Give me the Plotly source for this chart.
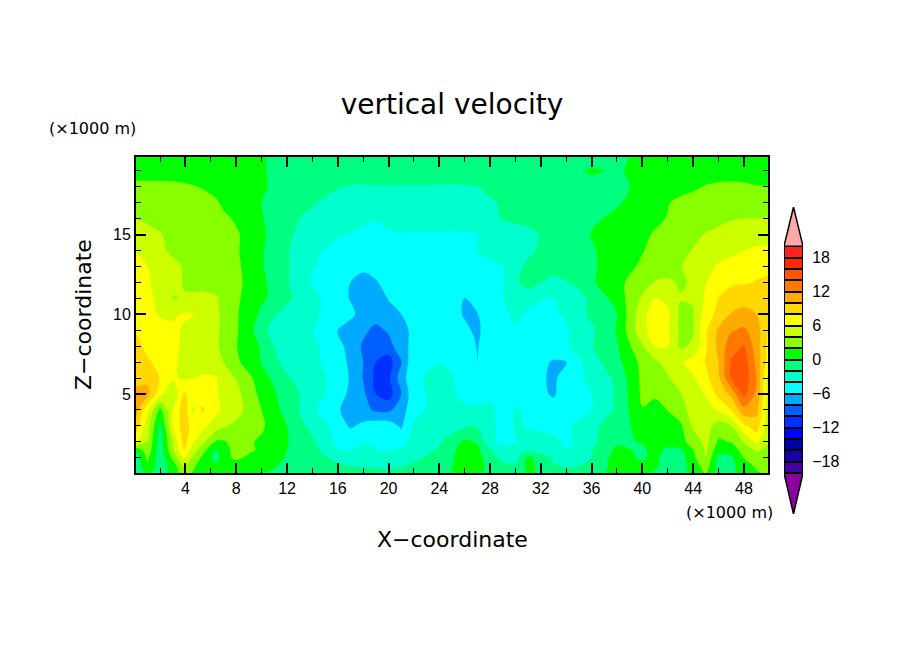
import plotly.graph_objects as go

# grid of the cross section (x1000 m)
x_km = [0.1, 1, 2, 3, 3.9, 4.6, 5.3, 6.4, 7, 8, 9,
        10, 11, 12, 14, 16, 17, 18, 19, 20, 21, 22,
        24, 26, 27, 28, 29, 30, 31, 33, 34, 36, 38,
        40, 41, 42, 43, 44, 45, 46, 47, 48, 49, 49.9]
z_km = [19.86, 19, 18, 17, 16, 15, 14, 13, 12, 11, 10, 9, 8, 7, 6, 5, 4, 3, 2, 1.5, 1, 0.5, 0.05]

# vertical velocity, one row per z_km
w = [
    [1, 1, 1, 1, 1, 1, 1, 1, 1, 1, .8,
     .3, -.5, -.8, -1, -1, -1, -1, -1, -1, -1, -1,
     -1, -1, -1, -1, -1, -1, -1, -1, -1, -.8, -.4,
     .4, .8, 1, 1, 1, 1, 1, 1, 1, .5, .8],
    [1, 1, 1, 1, 1, 1, 1, 1, 1, 1, .8,
     .3, -.5, -.9, -1.2, -1.3, -1.3, -1.3, -1.3, -1.3, -1.3, -1.3,
     -1.3, -1.3, -1.2, -1.2, -1.1, -1.1, -1, -.8, -.5, .2, -.2,
     .5, .9, 1, 1.1, 1.2, 1.2, 1.2, 1.2, 1.2, 1, 1],
    [2.6, 2.6, 2.6, 2.5, 2.3, 2.1, 1.9, 1.5, 1.2, 1, .8,
     .4, -.5, -.9, -1.5, -1.9, -2.1, -2.1, -2.1, -2.1, -2.1, -2.1,
     -2.1, -2.1, -2, -1.8, -1.6, -1.5, -1.3, -1, -.9, -.6, -.3,
     .3, .8, 1, 1.4, 1.7, 2.1, 2.3, 2.4, 2.3, 2.1, 2.1],
    [3.2, 3.2, 3.1, 3, 2.9, 2.8, 2.6, 2.2, 1.7, 1.3, .9,
     0, -.9, -1.2, -1.9, -2.5, -2.7, -2.8, -2.9, -2.9, -2.9, -2.9,
     -2.8, -2.6, -2.4, -2.1, -1.9, -1.7, -1.5, -1.2, -1.1, -.7, -.2,
     .8, 1.2, 1.9, 2.4, 2.7, 2.9, 3.1, 3.2, 3.3, 3.3, 3.3],
    [4, 3.7, 3.4, 3.2, 3, 2.9, 2.8, 2.5, 2.3, 1.8, .9,
     .2, -1, -1.7, -2.3, -2.8, -3.2, -3.6, -3.9, -3.6, -3.4, -3.5,
     -3.5, -3.3, -3, -2.4, -1.9, -1.8, -1.7, -1.3, -1.1, -.3, .4,
     1.2, 1.6, 2.1, 2.5, 3, 3.3, 3.6, 3.9, 4, 4, 4.1],
    [4.9, 4.6, 4.1, 3.6, 3.3, 3.2, 3.2, 3, 2.7, 2.2, 1.5,
     .4, -.8, -1.7, -2.9, -3.9, -4.1, -4.4, -4.4, -4.2, -4.1, -4.1,
     -4.1, -4.2, -4, -3.6, -2.9, -2.4, -2.3, -1.5, -1.2, .1, .8,
     1.6, 2.2, 2.6, 3.1, 3.6, 4.1, 4.4, 4.7, 5, 5.2, 5.3],
    [5.9, 5.1, 4.2, 3.8, 3.4, 3.3, 3.3, 3.1, 2.8, 2.2, 1.4,
     .2, -.8, -1.8, -3.8, -4.3, -4.5, -4.6, -4.6, -4.6, -4.6, -4.6,
     -4.5, -4.4, -4, -3.7, -3.6, -2.6, -2.2, -1.5, -1.2, -.2, .9,
     1.9, 2.5, 2.9, 3.5, 4.1, 4.6, 5.2, 5.6, 6, 6.3, 6.3],
    [7, 6, 5, 4.3, 3.9, 3.6, 3.4, 3.2, 2.9, 2.3, 1.5,
     .2, -.9, -1.8, -3.9, -4.6, -5.4, -5.7, -5.6, -5.2, -5, -4.9,
     -4.8, -4.7, -4.5, -4.2, -4, -2.3, -1.8, -1.4, -1.2, -.3, 1.1,
     2.3, 2.8, 3.2, 3.9, 4.6, 5.5, 6.2, 6.6, 7.2, 7.5, 7.5],
    [7.5, 6.3, 5.2, 4.5, 3.9, 3.7, 3.5, 3.3, 3, 2.4, 1.6,
     .4, -.6, -1.8, -4.2, -5.3, -6, -6.5, -6.1, -5.6, -5.3, -5.1,
     -5, -5, -4.9, -4.6, -4.2, -2.2, -1.6, -2.4, -2.1, -.3, 1.5,
     3.1, 4.1, 4.3, 3.8, 4.2, 5.9, 7, 7.6, 7.8, 8.1, 8.4],
    [7.6, 6.4, 5.6, 3.9, 4.1, 4.2, 4.4, 4.2, 3.4, 2.3, 1.4,
     .3, -.4, -1.7, -3.3, -5.4, -6.1, -7.9, -7, -5.9, -5.6, -5.3,
     -5.1, -6.05, -5.4, -5, -4.1, -3, -2.6, -4.1, -3.1, -1.7, .9,
     4.3, 6.1, 5.6, 4.1, 4.1, 6.4, 8, 9.3, 9.5, 9.5, 9],
    [7.8, 6.6, 5.8, 5.7, 6.2, 6.1, 5.7, 4.4, 3.5, 2.2, 1.1,
     -.4, -1.9, -2.5, -3.6, -5, -5.6, -6.7, -7, -6.6, -6, -5.6,
     -5.2, -6.1, -6.05, -5.4, -4.6, -3.4, -4.5, -4.2, -3.8, -1.5, 0,
     5.4, 7, 6.4, 3.6, 3.9, 7, 8.6, 10.1, 10.4, 10, 9],
    [7.9, 7.4, 6.9, 6.4, 5.8, 5.4, 5.1, 4.4, 3.5, 2.2, .9,
     -1.5, -2.5, -3, -3.9, -6.1, -6.8, -7.5, -8.6, -7.7, -6.4, -5.7,
     -5.2, -5.8, -6.2, -5.4, -4.7, -4.3, -6.05, -4.1, -4.2, -2.4, .2,
     5.4, 7, 6.3, 3.6, 3.9, 7.7, 10.3, 11.8, 12.4, 10.8, 8],
    [8.5, 7.6, 7.2, 6.4, 5.7, 5.3, 5, 4.4, 3.4, 2.1, .8,
     -.2, -2, -2.9, -3.5, -5.4, -6.7, -8.3, -9.1, -8.9, -6.5, -5.6,
     -5, -5, -6.1, -5, -4.6, -4.2, -6.05, -4.8, -4.2, -2.1, -.2,
     3.8, 6.1, 6.1, 3.7, 4.3, 7.8, 10.5, 13.2, 14.1, 11, 7.6],
    [7.9, 8.2, 7.6, 6.2, 5.7, 5.4, 5.2, 4.6, 4, 2.5, 1,
     -.1, -1.6, -2.6, -3.4, -5.3, -6.3, -8, -10, -10.9, -8.2, -4.2,
     -4.1, -4.5, -6, -4.9, -4.6, -4.8, -4.9, -6.2, -6.05, -2.8, -.6,
     2.6, 3.6, 4.8, 5.7, 6.8, 8.1, 10, 14.2, 15, 11.5, 7],
    [8.8, 9.5, 7.9, 6.3, 5.7, 6, 6.2, 6.2, 4.9, 3.9, 2.5,
     .7, -.4, -1.8, -3, -4.8, -6.2, -8.1, -10.5, -10.4, -7, -4.4,
     -3.3, -4.5, -5.1, -4.7, -4.7, -4.8, -5, -6.4, -5, -3.6, -1.5,
     2.5, 3.2, 3.8, 5, 5.8, 7.5, 9.6, 14.1, 15.4, 12, 5.5],
    [11, 10.6, 6.6, 4.2, 8.4, 7, 7.2, 6.3, 5.1, 4.6, 3,
     1.4, .2, -1.1, -3, -5, -6.5, -7.5, -10, -11, -8, -4.6,
     -3.4, -4.3, -4.6, -4.3, -4.1, -4.4, -4.7, -6.3, -4.7, -4, -1.7,
     2.4, 3, 3.4, 3.9, 5, 6.1, 8.6, 10.5, 14.6, 11.5, 5.5],
    [11, 6.5, 1.4, 6, 9.2, 5.6, 8.3, 6.6, 5.6, 4.6, 3.5,
     2, .5, -.6, -3.6, -5.8, -6.8, -7.4, -8.3, -8.4, -7, -4.5,
     -3.4, -3.8, -3.7, -3.7, -4.5, -3.9, -4.2, -4.9, -4.6, -4, -1.6,
     1.9, -.2, 2.1, 3.2, 4.8, 5.3, 6.2, 8, 11.4, 10.6, 5],
    [9, 5, -.5, 6, 9.2, 7, 6.6, 5, 4.2, 3.6, 3,
     2.4, .9, 0, -2.7, -4.8, -6.3, -5.5, -4.9, -5, -6.3, -3.8,
     -2.6, -2.3, -2.2, -2.6, -6.05, -3.6, -4.2, -4.6, -4.5, -2.4, -1.1,
     .9, 1.2, .9, 1.6, 4.4, 4.9, 3.1, 4, 7.5, 9, 5],
    [6.5, 3.9, -1, 4.2, 8.8, 6.2, 4.6, 1.8, 1.8, 2.7, 2.3,
     1.6, .9, .1, -1.6, -4.6, -4.5, -4.2, -4.6, -4.9, -4.8, -3.3,
     -2.2, .4, -.2, -3.5, -4.4, -4, -2.9, -3.6, -4.4, -2.5, -.3,
     .1, .8, .9, 1.4, 2.7, 4.6, 1.7, 2.1, 4.1, 6.4, 4.3],
    [.5, 3.4, -1.2, 3.9, 8.1, 5, 3, -.2, 1.2, 2.7, 2.4,
     1.6, .4, 0, -1.4, -3.9, -4.2, -3.3, -3.9, -4.2, -3.8, -2.8,
     -1.8, .9, .4, -1.8, -3.5, -3.7, -2.4, -2.8, -4.1, -2.1, .4,
     -.3, .6, -.4, -.3, 2, 4.4, .7, .9, 2.9, 4.3, 3.5],
    [-1.3, 2.4, -1.3, 2.5, 6.1, 3.8, 1.7, -.7, 1.2, 2.5, 1.5,
     .8, .3, -.1, -.9, -2.7, -2.8, -2.6, -2.7, -2.9, -2.9, -2.2,
     -1.6, 1.1, .9, -1.3, -2.4, -2.6, .4, -2.3, -2.8, -2, .9,
     -.3, .6, -1.1, -1, 1.5, 3.9, -.5, -.3, 2.1, 3.2, 2.8],
    [-1.3, 1.8, -1.2, .9, 4.5, 2.5, .8, .2, .8, .7, .6,
     .4, .1, -.3, -.7, -1.6, -2, -2.1, -2.2, -2.3, -2.1, -1.8,
     -1.3, 1.2, 1, -.9, -1.6, -1.9, .6, -1.8, -2.2, -1.8, 1,
     .5, .4, -1.2, -1.1, 1, 3, -.7, -.5, 1, 2.4, 2.6],
    [-1.5, .5, -1, .8, 3, 1.8, 1, .3, .7, .6, .5,
     .1, -.2, -.4, -.6, -1.2, -1.4, -1.5, -1.6, -1.7, -1.5, -1.3,
     -1, 1.2, 1, -.7, -1.3, -1.5, .6, -1.3, -1.6, -1.3, 1,
     .7, -.3, -1, -1, .8, 2.2, -.6, -.5, .8, 1.8, 2.2],
]
assert all(len(row) == len(x_km) for row in w)

# contour levels and the colour of each band, lowest first
level_lo = list(range(-20, 20, 2))
band_colors = ["#4400A0", "#1800A8", "#0000A0", "#0000FF", "#0030FF",
               "#0060FF", "#00AAFF", "#00FFFF", "#00FFCC", "#00FF80",
               "#00FF00", "#88FF00", "#CCFF00", "#FFFF00", "#FFD800",
               "#FFAA00", "#FF7800", "#FF5500", "#FF2800", "#FF2020"]
below_color = "#8B00A0"
above_color = "#FFA8A8"
bar_ticks = [-18, -12, -6, 0, 6, 12, 18]

WIDTH, HEIGHT = 904, 654
PAGE_MARGIN = 8  # the page body pushes the figure this far right and down
TEXT = "DejaVu Sans"
TICKS = "Liberation Sans"


def px_x(p):
    return (p - PAGE_MARGIN) / WIDTH


def px_y(p):
    return 1 - (p - PAGE_MARGIN) / HEIGHT


scale = []
for i, c in enumerate(band_colors):
    scale.append([i / len(band_colors), c])
    scale.append([(i + 1) / len(band_colors), c])

fig = go.Figure()
fig.add_trace(go.Contour(
    x=x_km, y=z_km, z=w,
    zmin=-20, zmax=20, colorscale=scale, showscale=False,
    contours=dict(start=-20, end=20, size=2, coloring="fill", showlines=False),
    line=dict(width=0, smoothing=1),
    xaxis="x", yaxis="y",
))

# label bar: one stacked box per band plus the two end triangles
fig.add_trace(go.Bar(
    x=[0.5] * len(level_lo), y=[2] * len(level_lo), base=level_lo, width=1,
    marker=dict(color=band_colors, line=dict(color="black", width=2)),
    xaxis="x2", yaxis="y2", showlegend=False,
))
fig.add_trace(go.Scatter(
    x=[0, 0.5, 1, 0], y=[20, 26.9, 20, 20], mode="lines", fill="toself",
    fillcolor=above_color, line=dict(color="black", width=1.5),
    xaxis="x2", yaxis="y2", showlegend=False,
))
fig.add_trace(go.Scatter(
    x=[0, 0.5, 1, 0], y=[-20, -27.2, -20, -20], mode="lines", fill="toself",
    fillcolor=below_color, line=dict(color="black", width=1.5),
    xaxis="x2", yaxis="y2", showlegend=False,
))

fig.update_layout(
    width=WIDTH, height=HEIGHT, autosize=False,
    margin=dict(l=0, r=0, t=0, b=0),
    paper_bgcolor="white", plot_bgcolor="white",
    showlegend=False,
    title=dict(text="vertical velocity", x=px_x(452), xanchor="center", y=px_y(104), yanchor="middle",
               font=dict(family=TEXT, size=28, color="black")),
    xaxis=dict(domain=[px_x(136), px_x(768)], range=[0.1, 49.9], anchor="y",
               tickvals=list(range(4, 50, 4)), ticks="inside", ticklen=10, tickwidth=2,
               minor=dict(tickvals=list(range(2, 50, 4)), ticks="inside", ticklen=5, tickwidth=1, tickcolor="black"),
               showgrid=False, zeroline=False, showline=True, mirror="allticks", linecolor="black", linewidth=2,
               tickcolor="black", tickfont=dict(family=TICKS, size=16, color="black")),
    yaxis=dict(domain=[px_y(473), px_y(157)], range=[0.05, 19.86], anchor="x",
               tickvals=[5, 10, 15], ticks="inside", ticklen=10, tickwidth=2,
               minor=dict(tickvals=[v for v in range(1, 20) if v % 5], ticks="inside", ticklen=5, tickwidth=1, tickcolor="black"),
               showgrid=False, zeroline=False, showline=True, mirror="allticks", linecolor="black", linewidth=2,
               tickcolor="black", tickfont=dict(family=TICKS, size=16, color="black")),
    xaxis2=dict(domain=[px_x(784), px_x(803)], range=[0, 1], anchor="y2",
                showticklabels=False, ticks="", showgrid=False, zeroline=False, showline=False),
    yaxis2=dict(domain=[px_y(514), px_y(207)], range=[-27.2, 26.9], anchor="x2", side="right",
                tickvals=bar_ticks, ticks="outside", ticklen=5, tickcolor="rgba(0,0,0,0)",
                showgrid=False, zeroline=False, showline=False,
                tickfont=dict(family=TICKS, size=16, color="black")),
    bargap=0,
)

texts = [
    ("(×1000 m)", 47, 129, "left", 0, 16, TEXT),
    ("(×1000 m)", 684, 512, "left", 0, 16, TEXT),
    ("X−coordinate", 452, 539, "center", 0, 22, TEXT),
    ("Z−coordinate", 83, 315, "center", -90, 22, TEXT),
]
for t, px, py, anchor, angle, size, family in texts:
    fig.add_annotation(text=t, x=px_x(px), y=px_y(py), xref="paper", yref="paper",
                       xanchor=anchor, yanchor="middle", showarrow=False, textangle=angle,
                       font=dict(family=family, size=size, color="black"))

fig.write_html("out.html")
